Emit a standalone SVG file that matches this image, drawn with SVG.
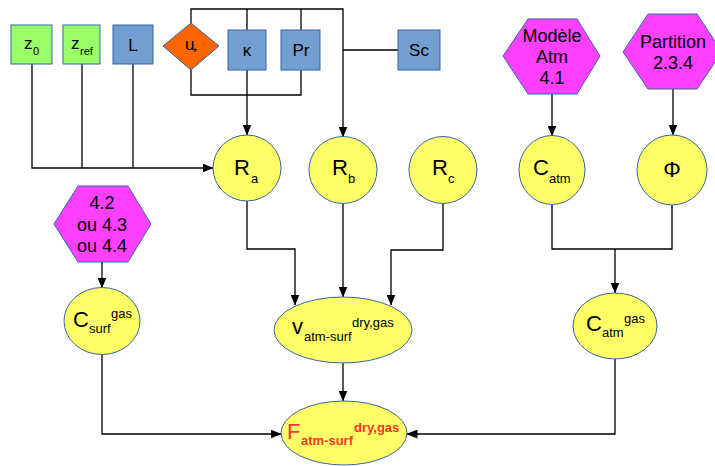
<svg xmlns="http://www.w3.org/2000/svg" width="715" height="466" viewBox="0 0 715 466">
<defs>
<marker id="ah" markerWidth="11" markerHeight="9" refX="10.5" refY="4.5" orient="auto" markerUnits="userSpaceOnUse">
<path d="M0,0 L11,4.5 L0,9 Z" fill="#000"/>
</marker>
<style>
text{font-family:"Liberation Sans",Arial,sans-serif;fill:#000}
.box{stroke:#3465a4;stroke-width:1}
.g{fill:#99ff66}
.b{fill:#729fcf}
.y{fill:#ffff66;stroke:#3465a4;stroke-width:1}
.m{fill:#ff40ff;stroke:#3465a4;stroke-width:1}
.c{fill:none;stroke:#000;stroke-width:1.3}
.a{marker-end:url(#ah)}
.big{font-size:22px}
.sm{font-size:13px}
.t17{font-size:17px}
.t18{font-size:18px}
.mid{text-anchor:middle}
.red{fill:#ff3333}
.bold{font-weight:bold}
</style>
</defs>
<rect width="715" height="466" fill="#fff"/>

<g id="connectors">
<path class="c" d="M191,23 V9 H343 V137" marker-end="url(#ah)"/>
<path class="c" d="M247,30 V9"/>
<path class="c" d="M301,30 V9"/>
<path class="c" d="M191,70 V95 H301 V70"/>
<path class="c a" d="M247,70 V135"/>
<path class="c" d="M343,50 H398"/>
<path class="c a" d="M32,64 V168 H213"/>
<path class="c" d="M82,64 V168"/>
<path class="c" d="M133,64 V168"/>
<path class="c a" d="M552,94 V136"/>
<path class="c a" d="M673,89 V135"/>
<path class="c a" d="M102,262 V288"/>
<path class="c a" d="M247,201 V249 H295 V305"/>
<path class="c a" d="M343,204 V297"/>
<path class="c a" d="M443,204 V250 H391 V305"/>
<path class="c" d="M552,205 V249 H672 V205"/>
<path class="c a" d="M615,249 V293"/>
<path class="c a" d="M102,355 V434 H281"/>
<path class="c a" d="M343,363 V401"/>
<path class="c a" d="M615,359 V434 H407"/>
</g>

<g id="z0">
<rect class="box g" x="11" y="25" width="41" height="39"/>
<text class="t17" x="24" y="49">z<tspan x="33" y="55" font-size="11">0</tspan></text>
</g>
<g id="zref">
<rect class="box g" x="63" y="25" width="37" height="39"/>
<text class="t17" x="71" y="49">z<tspan x="80" y="55" font-size="11">ref</tspan></text>
</g>
<g id="L">
<rect class="box b" x="113" y="25" width="40" height="39"/>
<text class="t17 mid" x="133" y="51">L</text>
</g>
<g id="ustar">
<polygon points="191,23 219,46 191,70 163,46" fill="#ff6600" stroke="#3465a4" stroke-width="1"/>
<text class="t17" x="185" y="50">u<tspan x="193" y="56" font-size="10">*</tspan></text>
</g>
<g id="kappa">
<rect class="box b" x="228" y="30" width="38" height="40"/>
<text class="t17 mid" x="247" y="56">κ</text>
</g>
<g id="Pr">
<rect class="box b" x="281" y="30" width="39" height="40"/>
<text class="t17 mid" x="301" y="56">Pr</text>
</g>
<g id="Sc">
<rect class="box b" x="398" y="30" width="42" height="40"/>
<text class="t17 mid" x="419" y="56">Sc</text>
</g>

<g id="modele">
<polygon class="m" points="503,56 528,19 577,19 600,56 577,94 528,94"/>
<text class="t18 mid" x="552" y="42">Modèle</text>
<text class="t18 mid" x="552" y="63">Atm</text>
<text class="t18 mid" x="552" y="84">4.1</text>
</g>
<g id="partition">
<polygon class="m" points="623,52 648,14 697,14 722,52 697,89 648,89"/>
<text class="t18 mid" x="673" y="48">Partition</text>
<text class="t18 mid" x="673" y="69">2.3.4</text>
</g>
<g id="ref42">
<polygon class="m" points="54,224 78,186 128,186 151,224 128,262 78,262"/>
<text class="t18 mid" x="102" y="209">4.2</text>
<text class="t18 mid" x="102" y="231">ou 4.3</text>
<text class="t18 mid" x="102" y="252">ou 4.4</text>
</g>

<g id="Ra">
<ellipse class="y" cx="247" cy="168" rx="34" ry="33"/>
<text class="big" x="234" y="175">R<tspan class="sm" x="251" y="183">a</tspan></text>
</g>
<g id="Rb">
<ellipse class="y" cx="343" cy="170" rx="34" ry="33.5"/>
<text class="big" x="332" y="175">R<tspan class="sm" x="348" y="183">b</tspan></text>
</g>
<g id="Rc">
<ellipse class="y" cx="443" cy="170" rx="34" ry="33.5"/>
<text class="big" x="432" y="175">R<tspan class="sm" x="448" y="183">c</tspan></text>
</g>
<g id="Catm">
<ellipse class="y" cx="552" cy="170" rx="33" ry="34.5"/>
<text class="big" x="533" y="175">C<tspan class="sm" x="549" y="183">atm</tspan></text>
</g>
<g id="Phi">
<ellipse class="y" cx="672" cy="170" rx="35" ry="35"/>
<text class="big mid" x="672" y="177">Φ</text>
</g>

<g id="Csurf">
<ellipse class="y" cx="102" cy="321" rx="38" ry="33.5"/>
<text class="big" x="73" y="327">C<tspan class="sm" x="89" y="333">surf</tspan><tspan class="sm" x="111" y="318">gas</tspan></text>
</g>
<g id="vatm">
<ellipse class="y" cx="343" cy="330" rx="69" ry="33"/>
<text class="big" x="292" y="334">v<tspan class="sm" x="304" y="341">atm-surf</tspan><tspan class="sm" x="352" y="327">dry,gas</tspan></text>
</g>
<g id="Catmgas">
<ellipse class="y" cx="615" cy="326" rx="42" ry="33"/>
<text class="big" x="586" y="331">C<tspan class="sm" x="602" y="337">atm</tspan><tspan class="sm" x="624" y="323">gas</tspan></text>
</g>
<g id="F">
<ellipse class="y" cx="344" cy="433" rx="63" ry="32"/>
<text class="big red" x="287" y="439">F<tspan class="sm bold red" x="301" y="445">atm-surf</tspan><tspan class="sm bold red" x="354" y="432">dry,gas</tspan></text>
</g>
</svg>
